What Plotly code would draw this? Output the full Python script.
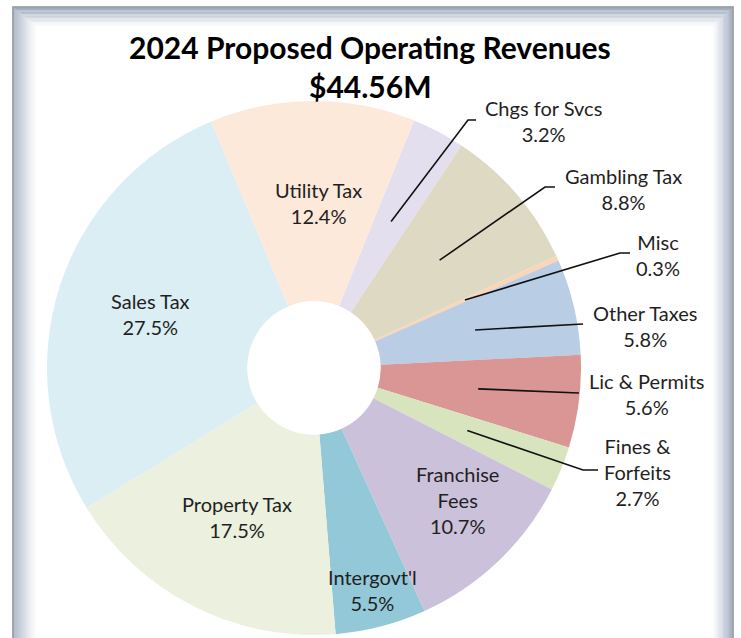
import math
import plotly.graph_objects as go

# Revenue categories, clockwise from the first slice
categories = ["Chgs for Svcs", "Gambling Tax", "Misc", "Other Taxes", "Lic & Permits",
              "Fines &<br>Forfeits", "Franchise<br>Fees", "Intergovt'l", "Property Tax",
              "Sales Tax", "Utility Tax"]
shares = [3.2, 8.8, 0.3, 5.8, 5.6, 2.7, 10.7, 5.5, 17.5, 27.5, 12.4]
colors = ["#e4dfee", "#ddd9c3", "#fcd5b4", "#b9cde5", "#d99694", "#d7e4bd",
          "#ccc1da", "#93c8d8", "#ebf1de", "#dbeef4", "#fde9d9"]

title_line1 = "2024 Proposed Operating Revenues"
title_line2 = "$44.56M"

W, H = 741, 638
CX, CY, R = 314, 368, 267
ROTATION = 22
HOLE = 0.25


def px(x):
    return x / W


def py(y):
    return 1 - y / H


# label centre positions (pixels) and leader line elbows for outside labels
label_pos = {
    "Chgs for Svcs": (543, 121), "Gambling Tax": (623, 189), "Misc": (658, 255),
    "Other Taxes": (645, 326), "Lic & Permits": (647, 394), "Fines &<br>Forfeits": (637, 472),
    "Franchise<br>Fees": (457, 500), "Intergovt'l": (372, 590), "Property Tax": (237, 517),
    "Sales Tax": (150, 314), "Utility Tax": (318, 203),
}
leaders = {
    "Chgs for Svcs": [(468, 120), (476, 120)],
    "Gambling Tax": [(545, 187), (555, 187)],
    "Misc": [(620, 253), (630, 253)],
    "Other Taxes": [(583, 324)],
    "Lic & Permits": [(579, 393)],
    "Fines &<br>Forfeits": [(583, 470), (598, 470)],
}

fig = go.Figure(go.Pie(
    labels=categories,
    values=shares,
    marker=dict(colors=colors, line=dict(width=0)),
    sort=False,
    direction="clockwise",
    rotation=ROTATION,
    hole=HOLE,
    textinfo="none",
    hoverinfo="label+percent",
    showlegend=False,
    domain=dict(x=[px(CX - R), px(CX + R)], y=[py(CY + R), py(CY - R)]),
))

annotations = []
shapes = []

# frame with a soft inner shadow
for i in range(26):
    a = 0.6 * (1 - i / 26) ** 1.5
    shapes.append(dict(type="rect", xref="paper", yref="paper",
                       x0=px(13 + i), x1=px(733 - i * 0.85), y0=py(700), y1=py(7 + i * 0.8),
                       line=dict(color=f"rgba(118,136,164,{a:.3f})", width=1.2),
                       layer="below"))
shapes.append(dict(type="rect", xref="paper", yref="paper",
                   x0=px(13), x1=px(733), y0=py(700), y1=py(7),
                   line=dict(color="#9a9a9a", width=1.5), layer="above"))

total = sum(shares)
cum = 0
for name, v in zip(categories, shares):
    mid = math.radians(ROTATION + (cum + v / 2) / total * 360)
    cum += v
    lx, ly = label_pos[name]
    annotations.append(dict(
        x=px(lx), y=py(ly), xref="paper", yref="paper", showarrow=False,
        text=f"{name}<br>{v:.1f}%", align="center",
        font=dict(family="Lato, Calibri, sans-serif", size=20, color="#1f1f1f"),
        xanchor="center", yanchor="middle"))
    if name in leaders:
        ax = CX + 0.62 * R * math.sin(mid)
        ay = CY - 0.62 * R * math.cos(mid)
        pts = [(ax, ay)] + leaders[name]
        path = "M " + " L ".join(f"{px(x):.5f},{py(y):.5f}" for x, y in pts)
        shapes.append(dict(type="path", xref="paper", yref="paper", path=path,
                           line=dict(color="#111111", width=1.6), layer="above"))

annotations.append(dict(x=px(370), y=py(47), xref="paper", yref="paper", showarrow=False,
                        text=f"<b>{title_line1}</b>", xanchor="center", yanchor="middle",
                        font=dict(family="Lato, Calibri, sans-serif", size=30, color="#000000")))
annotations.append(dict(x=px(370), y=py(86), xref="paper", yref="paper", showarrow=False,
                        text=f"<b>{title_line2}</b>", xanchor="center", yanchor="middle",
                        font=dict(family="Lato, Calibri, sans-serif", size=30, color="#000000")))

fig.update_layout(
    width=W, height=H,
    margin=dict(l=0, r=0, t=0, b=0),
    paper_bgcolor="white",
    annotations=annotations,
    shapes=shapes,
)

fig.write_html("out.html")
